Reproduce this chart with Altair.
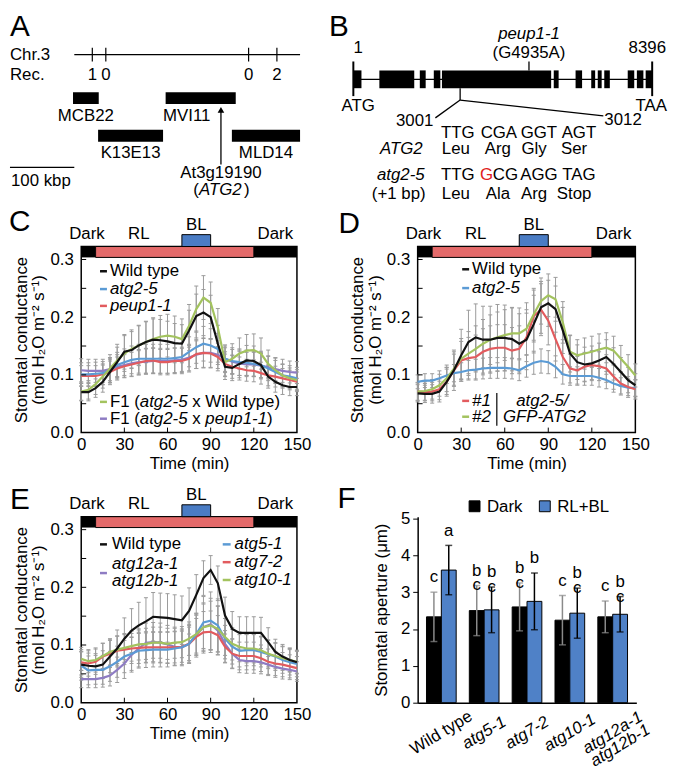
import altair as alt
import pandas as pd

FONT = "Liberation Sans"
FS = 17
GRAY = "#9b9b9b"
BLACK = "#111111"
BLUE = "#5b9bd5"
RED = "#e25b5e"
GREEN = "#a3c35e"
PURPLE = "#8e7cc3"
LIGHT_RED = "#e46a6a"
LIGHT_BLUE = "#4a7cc4"
BAR_BLUE = "#4f81c7"

# ---------------- data ----------------
TIME = list(range(0, 151, 5))
LIGHT_NAMES = ["Dark", "RL", "Dark"]
LIGHT_START = [0, 10, 120]
LIGHT_END = [10, 120, 150]
BL_START, BL_END = 70, 90
LIGHT_LABELS = ["Dark", "RL", "BL", "Dark"]
LIGHT_LABEL_T = [4, 40, 80, 135]

# Panel A (kbp)
A_CHR = [100, 451]
A_REC_KBP = [128, 149, 371, 415]
A_REC = ["1", "0", "0", "2"]
A_BAC = ["MCB22", "K13E13", "MVI11", "MLD14"]
A_BAC_START = [98, 137, 242, 345]
A_BAC_END = [138, 238, 351, 451]
A_BAC_ROW = [1, 2, 1, 2]
A_GENE_KBP = 328
A_SCALE_KBP = [0, 100]

# Panel B (bp)
B_LEN = 8396
B_EXON_START = [1, 732, 1868, 2261, 2490, 5631, 6244, 6684, 6867, 7050, 7709, 7966, 8213]
B_EXON_END = [229, 1712, 2033, 2445, 5558, 5768, 6427, 6794, 6977, 7206, 7892, 8149, 8396]
B_PEUP = 4935
B_SITE = [3001, 3012]
B_WT_CODON = ["TTG", "CGA", "GGT", "AGT"]
B_WT_AA = ["Leu", "Arg", "Gly", "Ser"]
B_MUT_CODON = ["TTG", "GCG", "AGG", "TAG"]
B_MUT_AA = ["Leu", "Ala", "Arg", "Stop"]

# Panel C
C_WT = [0.070,0.070,0.077,0.088,0.105,0.122,0.140,0.143,0.151,0.157,0.161,0.160,0.158,0.155,0.154,0.177,0.202,0.208,0.200,0.154,0.114,0.112,0.119,0.125,0.124,0.117,0.097,0.088,0.082,0.079,0.079]
C_ATG25 = [0.101,0.101,0.102,0.103,0.108,0.117,0.122,0.126,0.128,0.128,0.128,0.128,0.128,0.129,0.131,0.140,0.148,0.154,0.151,0.145,0.128,0.124,0.122,0.121,0.119,0.117,0.111,0.105,0.099,0.097,0.094]
C_PEUP = [0.098,0.098,0.098,0.101,0.105,0.111,0.115,0.118,0.121,0.124,0.125,0.122,0.122,0.124,0.124,0.128,0.136,0.138,0.137,0.131,0.119,0.114,0.111,0.108,0.107,0.103,0.099,0.097,0.094,0.091,0.088]
C_F1WT = [0.071,0.074,0.084,0.097,0.111,0.125,0.137,0.145,0.151,0.157,0.162,0.166,0.168,0.166,0.162,0.185,0.214,0.234,0.225,0.182,0.122,0.128,0.137,0.142,0.143,0.137,0.119,0.108,0.099,0.094,0.091]
C_F1PEUP = [0.108,0.107,0.107,0.107,0.110,0.114,0.117,0.120,0.122,0.123,0.124,0.124,0.124,0.125,0.126,0.130,0.135,0.138,0.138,0.135,0.128,0.123,0.120,0.118,0.118,0.116,0.113,0.110,0.107,0.105,0.104]
C_WT_SD = [0.015,0.015,0.016,0.018,0.022,0.026,0.030,0.032,0.034,0.035,0.036,0.036,0.035,0.034,0.033,0.035,0.038,0.040,0.038,0.032,0.022,0.022,0.024,0.026,0.026,0.024,0.020,0.018,0.016,0.015,0.015]
C_ATG25_SD = [0.020,0.020,0.020,0.020,0.021,0.022,0.023,0.024,0.025,0.025,0.025,0.025,0.025,0.025,0.025,0.026,0.028,0.030,0.029,0.027,0.024,0.023,0.023,0.022,0.022,0.022,0.021,0.020,0.020,0.019,0.019]
C_PEUP_SD = [0.018,0.018,0.018,0.018,0.019,0.020,0.020,0.021,0.021,0.022,0.022,0.022,0.022,0.022,0.022,0.023,0.025,0.026,0.025,0.024,0.021,0.020,0.020,0.019,0.019,0.019,0.018,0.018,0.017,0.017,0.017]
C_F1WT_SD = [0.015,0.016,0.018,0.020,0.024,0.028,0.031,0.033,0.035,0.036,0.037,0.037,0.037,0.036,0.035,0.037,0.040,0.038,0.036,0.033,0.025,0.026,0.027,0.028,0.028,0.027,0.024,0.021,0.019,0.018,0.018]
C_F1PEUP_SD = [0.020,0.020,0.020,0.020,0.020,0.021,0.021,0.022,0.022,0.022,0.022,0.022,0.022,0.022,0.022,0.023,0.024,0.025,0.025,0.024,0.022,0.021,0.021,0.021,0.021,0.021,0.020,0.020,0.020,0.019,0.019]

# Panel D
D_WT = [0.068,0.067,0.067,0.071,0.088,0.108,0.134,0.157,0.165,0.161,0.161,0.164,0.164,0.162,0.154,0.161,0.188,0.217,0.224,0.214,0.177,0.137,0.122,0.118,0.120,0.125,0.131,0.119,0.105,0.091,0.082]
D_ATG25 = [0.088,0.090,0.090,0.094,0.099,0.103,0.105,0.108,0.109,0.111,0.112,0.112,0.112,0.111,0.108,0.115,0.121,0.124,0.122,0.114,0.101,0.098,0.098,0.098,0.098,0.095,0.091,0.085,0.081,0.078,0.077]
D_N1 = [0.071,0.070,0.071,0.075,0.088,0.108,0.125,0.129,0.131,0.140,0.145,0.147,0.147,0.142,0.145,0.165,0.202,0.213,0.194,0.162,0.131,0.111,0.108,0.114,0.117,0.115,0.111,0.097,0.085,0.079,0.075]
D_N2 = [0.071,0.072,0.075,0.082,0.094,0.111,0.128,0.137,0.145,0.154,0.161,0.165,0.169,0.172,0.172,0.180,0.205,0.228,0.238,0.231,0.191,0.140,0.134,0.137,0.140,0.144,0.147,0.142,0.128,0.114,0.099]
D_WT_SD = [0.015,0.015,0.016,0.018,0.025,0.035,0.045,0.055,0.058,0.058,0.058,0.058,0.057,0.055,0.052,0.052,0.050,0.045,0.040,0.040,0.040,0.032,0.030,0.030,0.030,0.030,0.030,0.028,0.025,0.022,0.020]
D_ATG25_SD = [0.012,0.012,0.012,0.013,0.014,0.015,0.016,0.017,0.018,0.018,0.018,0.018,0.018,0.018,0.018,0.019,0.020,0.021,0.020,0.019,0.017,0.016,0.016,0.016,0.016,0.016,0.015,0.015,0.014,0.014,0.014]
D_N1_SD = [0.015,0.015,0.016,0.018,0.022,0.028,0.033,0.036,0.038,0.040,0.040,0.040,0.040,0.040,0.040,0.042,0.045,0.045,0.042,0.038,0.030,0.025,0.024,0.025,0.025,0.025,0.024,0.022,0.020,0.018,0.017]
D_N2_SD = [0.016,0.016,0.017,0.019,0.023,0.029,0.035,0.038,0.040,0.042,0.043,0.044,0.044,0.044,0.044,0.045,0.045,0.040,0.037,0.038,0.036,0.028,0.027,0.027,0.027,0.027,0.026,0.025,0.023,0.021,0.020]

# Panel E
E_WT = [0.066,0.064,0.063,0.066,0.080,0.094,0.111,0.125,0.134,0.141,0.149,0.148,0.147,0.145,0.143,0.159,0.187,0.216,0.230,0.207,0.151,0.128,0.121,0.121,0.121,0.121,0.105,0.088,0.080,0.074,0.070]
E_ATG5 = [0.064,0.056,0.057,0.057,0.063,0.071,0.080,0.085,0.090,0.091,0.092,0.092,0.092,0.094,0.096,0.102,0.119,0.139,0.142,0.134,0.111,0.097,0.090,0.091,0.091,0.088,0.084,0.080,0.074,0.070,0.067]
E_ATG7 = [0.070,0.068,0.071,0.080,0.085,0.090,0.092,0.094,0.095,0.096,0.096,0.096,0.096,0.096,0.097,0.102,0.114,0.122,0.123,0.117,0.097,0.085,0.081,0.081,0.081,0.077,0.071,0.068,0.066,0.063,0.060]
E_ATG10 = [0.076,0.072,0.074,0.081,0.088,0.092,0.095,0.098,0.101,0.102,0.104,0.104,0.102,0.104,0.105,0.111,0.119,0.131,0.134,0.128,0.114,0.102,0.097,0.094,0.094,0.091,0.085,0.081,0.077,0.074,0.071]
E_ATG12 = [0.041,0.041,0.041,0.043,0.047,0.057,0.068,0.083,0.094,0.104,0.105,0.104,0.101,0.097,0.096,0.102,0.117,0.131,0.136,0.125,0.102,0.085,0.074,0.072,0.072,0.070,0.066,0.062,0.059,0.057,0.054]
E_WT_SD = [0.022,0.022,0.022,0.024,0.028,0.032,0.036,0.038,0.040,0.041,0.042,0.042,0.042,0.042,0.042,0.040,0.035,0.030,0.025,0.030,0.032,0.030,0.028,0.028,0.028,0.027,0.025,0.022,0.021,0.020,0.020]
E_ATG5_SD = [0.025,0.025,0.025,0.025,0.026,0.027,0.028,0.029,0.030,0.030,0.030,0.030,0.030,0.030,0.030,0.032,0.036,0.045,0.050,0.046,0.035,0.030,0.028,0.027,0.027,0.026,0.025,0.024,0.023,0.022,0.022]
E_ATG7_SD = [0.022,0.022,0.022,0.023,0.024,0.025,0.026,0.026,0.027,0.027,0.027,0.027,0.027,0.027,0.027,0.029,0.032,0.036,0.036,0.034,0.028,0.025,0.024,0.024,0.024,0.023,0.022,0.021,0.021,0.020,0.020]
E_ATG10_SD = [0.020,0.020,0.021,0.022,0.023,0.024,0.025,0.026,0.027,0.027,0.027,0.027,0.027,0.027,0.027,0.029,0.033,0.040,0.042,0.040,0.032,0.028,0.026,0.025,0.025,0.024,0.023,0.022,0.021,0.021,0.020]
E_ATG12_SD = [0.015,0.015,0.015,0.016,0.018,0.022,0.026,0.030,0.032,0.034,0.034,0.034,0.033,0.032,0.032,0.034,0.038,0.042,0.045,0.042,0.032,0.026,0.022,0.021,0.021,0.020,0.019,0.018,0.018,0.017,0.017]

# Panel F
F_GROUPS = ["Wild type", "atg5-1", "atg7-2", "atg10-1", "atg12a-1 atg12b-1"]
F_CONDS = ["Dark", "RL+BL"]
F_DARK = [2.33, 2.50, 2.60, 2.24, 2.33]
F_DARK_SD = [0.67, 0.68, 0.65, 0.67, 0.43]
F_LIGHT = [3.60, 2.52, 2.75, 2.43, 2.40]
F_LIGHT_SD = [0.67, 0.62, 0.77, 0.68, 0.48]
F_DARK_LET = ["c", "b\nc", "b\nc", "c", "c"]
F_LIGHT_LET = ["a", "b\nc", "b", "b\nc", "b\nc"]

# ---------------- helpers ----------------
CW = {" ": 278, "(": 333, ")": 333, "-": 333, ".": 278, "/": 278, "#": 556, "+": 584,
      "A": 667, "B": 667, "C": 722, "D": 722, "E": 667, "F": 611, "G": 778, "H": 722, "I": 278,
      "K": 667, "L": 556, "M": 833, "O": 778, "P": 667, "R": 722, "S": 667, "T": 611, "V": 667,
      "W": 944, "a": 556, "b": 556, "c": 500, "d": 556, "e": 556, "g": 556, "h": 556, "i": 222,
      "k": 500, "l": 222, "m": 833, "n": 556, "o": 556, "p": 556, "r": 333, "s": 500, "t": 278,
      "u": 556, "w": 722, "x": 500, "y": 500}
for _d in "0123456789":
    CW[_d] = 556


def tw(s, size=FS):
    return sum(CW.get(ch, 556) for ch in s) * size / 1000.0


def text_layer(rows, X, Y, align="left", italic=False, size=FS, color="black", baseline="middle"):
    df = pd.DataFrame(rows, columns=["t", "v", "label"])
    return alt.Chart(df).mark_text(
        align=align, baseline=baseline, font=FONT, fontSize=size,
        fontStyle="italic" if italic else "normal", color=color
    ).encode(x=X, y=Y, text="label:N")


def rule_layer(rows, X, Y, width=1.0, color="black"):
    df = pd.DataFrame(rows, columns=["t", "t2", "v", "v2"])
    return alt.Chart(df).mark_rule(color=color, strokeWidth=width).encode(
        x=X, x2="t2:Q", y=Y, y2="v2:Q")


def rect_layer(rows, X, Y, stroke=None, sw=1.0):
    df = pd.DataFrame(rows, columns=["t", "t2", "v", "v2", "c"])
    mk = alt.Chart(df).mark_rect(stroke=stroke, strokeWidth=sw) if stroke else alt.Chart(df).mark_rect()
    return mk.encode(x=X, x2="t2:Q", y=Y, y2="v2:Q", color=alt.Color("c:N", scale=None))


def mixed_text(parts, x0_px, y_px, tx, vy, X, Y, color="black"):
    """Place text runs side by side; leading/trailing spaces are turned into offsets
    (SVG would collapse them)."""
    layers = []
    x = x0_px
    for text, italic in parts:
        lead = len(text) - len(text.lstrip(" "))
        x += tw(" " * lead)
        core = text.strip(" ")
        layers.append(text_layer([(tx(x), vy(y_px), core)], X, Y, align="left", italic=italic, color=color))
        x += tw(core) + tw(" " * (len(text) - lead - len(core)))
    return layers


# grid geometry (plot areas)
COL1_W = 221
COL_GAP = 119
ROW1_H = 152
ROW_GAP = 85

# ---------------- Panel A ----------------
A_W, A_H = COL1_W, ROW1_H
ax = lambda rx: (rx - 3) / 0.65     # reference px -> kbp
ay = lambda ry: ry - 3
XA = alt.X("t:Q", scale=alt.Scale(domain=[ax(75), ax(75 + A_W)], nice=False, zero=False), axis=None)
YA = alt.Y("v:Q", scale=alt.Scale(domain=[0, A_H], reverse=True, nice=False, zero=False), axis=None)
a_layers = []
a_layers.append(rule_layer([(A_CHR[0], A_CHR[1], ay(46), ay(46))], XA, YA, width=1.2))
a_layers.append(rule_layer([(k, k, ay(39), ay(53)) for k in A_REC_KBP], XA, YA, width=1.2))
a_layers.append(text_layer([(k, ay(67), r) for k, r in zip(A_REC_KBP, A_REC)], XA, YA, align="center"))
a_layers.append(rect_layer([(s, e, ay(84) if r == 1 else ay(122), ay(96) if r == 1 else ay(134), "black")
                            for s, e, r in zip(A_BAC_START, A_BAC_END, A_BAC_ROW)], XA, YA))
for name, s, e, r in zip(A_BAC, A_BAC_START, A_BAC_END, A_BAC_ROW):
    yy = ay(108) if r == 1 else ay(146)
    if name == "MVI11":
        a_layers.append(text_layer([(s - 4, yy, name)], XA, YA, align="left"))
    else:
        a_layers.append(text_layer([((s + e) / 2, yy, name)], XA, YA, align="center"))
a_layers.append(rule_layer([(A_GENE_KBP, A_GENE_KBP, ay(157), ay(104))], XA, YA, width=1.3))
a_layers.append(alt.Chart(pd.DataFrame({"t": [A_GENE_KBP], "v": [ay(102)]})).mark_point(
    shape="triangle-up", filled=True, size=45, color="black", opacity=1).encode(x=XA, y=YA))
a_layers.append(text_layer([(A_GENE_KBP, ay(166), "At3g19190")], XA, YA, align="center"))
_w = tw("(") + tw("ATG2") + tw(")")
_x = (A_GENE_KBP * 0.65) - _w / 2
for txt, it in [("(", False), ("ATG2", True), (")", False)]:
    a_layers.append(text_layer([(_x / 0.65, ay(183), txt)], XA, YA, align="left", italic=it))
    _x += tw(txt) + (1 if it else 0)
a_layers.append(rule_layer([(A_SCALE_KBP[0], A_SCALE_KBP[1], ay(160), ay(160))], XA, YA, width=1.3))
a_layers.append(text_layer([(ax(4), ay(174), "100 kbp")], XA, YA, align="left"))
a_layers.append(text_layer([(ax(3), ay(46), "Chr.3")], XA, YA, align="left"))
a_layers.append(text_layer([(ax(3), ay(67), "Rec.")], XA, YA, align="left"))
a_layers.append(text_layer([(ax(3), ay(18), "A")], XA, YA, align="left", size=30))
panelA = alt.layer(*a_layers).properties(width=A_W, height=A_H)

# ---------------- Panel B ----------------
B_LEFT = 75 + COL1_W + COL_GAP      # reference x of B plot area
B_W, B_H = 669 - B_LEFT, ROW1_H
bo = lambda rx: 1 + (rx - 356) * 8395 / 306      # reference px -> bp
by = lambda ry: ry - 3
_bpp = 8395 / 302
_bp_at = lambda r: 1 + (r + B_LEFT - 350) * _bpp
XB = alt.X("t:Q", scale=alt.Scale(domain=[_bp_at(0), _bp_at(B_W)], nice=False, zero=False), axis=None)
YB = alt.Y("v:Q", scale=alt.Scale(domain=[0, B_H], reverse=True, nice=False, zero=False), axis=None)
b_layers = []
b_layers.append(rule_layer([(1, B_LEN, by(71), by(71))], XB, YB, width=1.3))
b_layers.append(rect_layer([(s, e, by(62), by(80), "black") for s, e in zip(B_EXON_START, B_EXON_END)], XB, YB))
b_layers.append(rule_layer([(1, 1, by(53), by(88)), (B_LEN, B_LEN, by(53), by(88))], XB, YB, width=2))
b_layers.append(rule_layer([(B_PEUP, B_PEUP, by(53), by(62))], XB, YB, width=1.3))
b_layers.append(rule_layer([(B_SITE[0], B_SITE[0], by(80), by(92)),
                            (B_SITE[0], bo(440), by(92), by(110)),
                            (B_SITE[0], bo(612), by(92), by(108))], XB, YB, width=1.3))
b_layers.append(text_layer([(B_PEUP, by(25), "peup1-1")], XB, YB, align="center", italic=True))
b_layers.append(text_layer([(B_PEUP, by(44), "(G4935A)")], XB, YB, align="center"))
b_layers.append(text_layer([(bo(361), by(39), "1"), (bo(657), by(39), str(B_LEN)),
                            (bo(361), by(98), "ATG"), (bo(661), by(98), "TAA")], XB, YB, align="center"))
b_layers.append(text_layer([(bo(438), by(113), str(B_SITE[0])), (bo(430), by(187), "(+1 bp)")], XB, YB, align="right"))
b_layers.append(text_layer([(bo(613), by(112), str(B_SITE[1]))], XB, YB, align="left"))
b_layers.append(text_layer([(bo(427), by(141), "ATG2"), (bo(429), by(168), "atg2-5")], XB, YB, align="right", italic=True))
COLS_CODON = [463, 505, 546, 587]
COLS_AA = [461, 504, 541, 582]
rows = []
for cx, ca, c1, a1, c2, a2 in zip(COLS_CODON, COLS_AA, B_WT_CODON, B_WT_AA, B_MUT_CODON, B_MUT_AA):
    rows += [(bo(cx), by(125), c1), (bo(ca), by(142), a1), (bo(ca), by(187), a2)]
    if c2 != "GCG":
        rows.append((bo(cx), by(168), c2))
b_layers.append(text_layer(rows, XB, YB, align="center"))
_gx = COLS_CODON[1] - tw("GCG") / 2
b_layers.append(text_layer([(bo(_gx), by(168), "G")], XB, YB, align="left", color="#e02020"))
b_layers.append(text_layer([(bo(_gx + tw("G")), by(168), "CG")], XB, YB, align="left"))
b_layers.append(text_layer([(bo(331), by(18), "B")], XB, YB, align="left", size=30))
panelB = alt.layer(*b_layers).properties(width=B_W, height=B_H)

# ---------------- line panels ----------------
YMAX = 0.3225
YTITLE = ["Stomatal conductance", "(mol H\u2082O m\u207b\u00b2 s\u207b\u00b9)"]


def line_panel(letter, letter_pos, series, legend_fn, W, H=188):
    X = alt.X("t:Q", scale=alt.Scale(domain=[0, 150], nice=False, zero=False),
              axis=alt.Axis(values=[0, 30, 60, 90, 120, 150], title="Time (min)", ticks=False, domain=False,
                            grid=False, labelFlush=False, labelPadding=4, titlePadding=3, labelOverlap=False))
    Y = alt.Y("v:Q", scale=alt.Scale(domain=[0, YMAX], nice=False, zero=False),
              axis=alt.Axis(values=[0, 0.1, 0.2, 0.3], format=".1f", title=YTITLE, ticks=False, domain=False,
                            grid=False, labelPadding=8, titlePadding=2, titleLineHeight=18, labelOverlap=False))
    tx = lambda px: px / W * 150
    vy = lambda py: (H - py) / H * YMAX
    layers = []
    err, caps = [], []
    for name, col, mean, sd in series:
        for t, m, s in zip(TIME, mean, sd):
            err.append((t, t, m - s, m + s))
            caps.append((t - 1.4, t + 1.4, m - s, m - s))
            caps.append((t - 1.4, t + 1.4, m + s, m + s))
    layers.append(rule_layer(err, X, Y, width=1, color=GRAY))
    layers.append(rule_layer(caps, X, Y, width=1, color=GRAY))
    for name, col, mean, sd in series:
        df = pd.DataFrame({"t": TIME, "v": mean})
        layers.append(alt.Chart(df).mark_line(color=col, strokeWidth=2.2).encode(x=X, y=Y))
    band = []
    for nm, s, e in zip(LIGHT_NAMES, LIGHT_START, LIGHT_END):
        band.append((s, e, vy(11), vy(0), "black" if nm == "Dark" else LIGHT_RED))
    layers.append(rect_layer([band[0], band[2]], X, Y))
    layers.append(rect_layer([band[1]], X, Y, stroke="black", sw=1))
    layers.append(rect_layer([(BL_START, BL_END, vy(0), vy(-12), LIGHT_BLUE)], X, Y, stroke="black", sw=1))
    lab = []
    for nm, t in zip(LIGHT_LABELS, LIGHT_LABEL_T):
        lab.append((t, vy(-22) if nm == "BL" else vy(-12.5), nm))
    layers.append(text_layer(lab, X, Y, align="center"))
    layers += legend_fn(X, Y, tx, vy)
    layers.append(alt.Chart(pd.DataFrame({"t": [30, 60, 90, 120]})).mark_rule(color="black", strokeWidth=1)
                  .encode(x=X, y=alt.value(H), y2=alt.value(H - 5)))
    layers.append(alt.Chart(pd.DataFrame({"v": [0.05, 0.1, 0.15, 0.2, 0.25, 0.3]})).mark_rule(color="black", strokeWidth=1)
                  .encode(y=Y, x=alt.value(0), x2=alt.value(5)))
    layers.append(text_layer([(tx(letter_pos[0]), vy(letter_pos[1]), letter)], X, Y, align="left", size=30))
    return alt.layer(*layers).properties(width=W, height=H,
                                          view=alt.ViewBackground(stroke="black", strokeWidth=1.5))


def sample(X, Y, tx, vy, x0, x1, y, col):
    return rule_layer([(tx(x0), tx(x1), vy(y), vy(y))], X, Y, width=2.5, color=col)


def legend_c(X, Y, tx, vy):
    L = []
    for y, col, txt, it in [(25, BLACK, "Wild type", False), (43, BLUE, "atg2-5", True), (60, RED, "peup1-1", True)]:
        L.append(sample(X, Y, tx, vy, 19, 26, y, col))
        L.append(text_layer([(tx(29), vy(y), txt)], X, Y, italic=it))
    L.append(sample(X, Y, tx, vy, 19, 26, 157, GREEN))
    L += mixed_text([("F1 (", False), ("atg2-5", True), (" x Wild type)", False)], 29, 157, tx, vy, X, Y)
    L.append(sample(X, Y, tx, vy, 19, 26, 174, PURPLE))
    L += mixed_text([("F1 (", False), ("atg2-5", True), (" x ", False), ("peup1-1", True), (")", False)],
                    29, 174, tx, vy, X, Y)
    return L


def legend_d(X, Y, tx, vy):
    L = []
    for y, col, txt, it in [(23, BLACK, "Wild type", False), (42, BLUE, "atg2-5", True),
                            (156, RED, "#1", True), (172, GREEN, "#2", True)]:
        L.append(sample(X, Y, tx, vy, 45, 52, y, col))
        L.append(text_layer([(tx(55), vy(y), txt)], X, Y, italic=it))
    L.append(rule_layer([(tx(80), tx(80), vy(148), vy(181))], X, Y, width=1.2))
    L.append(text_layer([(tx(126), vy(156), "atg2-5/"), (tx(128), vy(172), "GFP-ATG2")], X, Y,
                        align="center", italic=True))
    return L


def legend_e(X, Y, tx, vy):
    L = []
    L.append(sample(X, Y, tx, vy, 19, 26, 28, BLACK))
    L.append(text_layer([(tx(31), vy(28), "Wild type")], X, Y))
    L.append(sample(X, Y, tx, vy, 19, 26, 57, PURPLE))
    L.append(text_layer([(tx(31), vy(48), "atg12a-1"), (tx(31), vy(65), "atg12b-1")], X, Y, italic=True))
    for y, col, txt in [(28, BLUE, "atg5-1"), (46, RED, "atg7-2"), (64, GREEN, "atg10-1")]:
        L.append(sample(X, Y, tx, vy, 143, 151, y, col))
        L.append(text_layer([(tx(155), vy(y), txt)], X, Y, italic=True))
    return L


panelC = line_panel("C", (-73, -25), [
    ("F1 (atg2-5 x peup1-1)", PURPLE, C_F1PEUP, C_F1PEUP_SD),
    ("peup1-1", RED, C_PEUP, C_PEUP_SD),
    ("atg2-5", BLUE, C_ATG25, C_ATG25_SD),
    ("F1 (atg2-5 x Wild type)", GREEN, C_F1WT, C_F1WT_SD),
    ("Wild type", BLACK, C_WT, C_WT_SD)], legend_c, W=218)

panelD = line_panel("D", (-80, -23), [
    ("atg2-5", BLUE, D_ATG25, D_ATG25_SD),
    ("#1", RED, D_N1, D_N1_SD),
    ("#2", GREEN, D_N2, D_N2_SD),
    ("Wild type", BLACK, D_WT, D_WT_SD)], legend_d, W=220)

panelE = line_panel("E", (-72, -17), [
    ("atg12a-1 atg12b-1", PURPLE, E_ATG12, E_ATG12_SD),
    ("atg7-2", RED, E_ATG7, E_ATG7_SD),
    ("atg5-1", BLUE, E_ATG5, E_ATG5_SD),
    ("atg10-1", GREEN, E_ATG10, E_ATG10_SD),
    ("Wild type", BLACK, E_WT, E_WT_SD)], legend_e, W=218)

# ---------------- Panel F ----------------
F_W, F_H = 221, 188
F_YMAX = 5.05
rows = []
for g, md, sdd, ml, sdl, ld, ll in zip(F_GROUPS, F_DARK, F_DARK_SD, F_LIGHT, F_LIGHT_SD, F_DARK_LET, F_LIGHT_LET):
    rows.append(dict(g=g, cond="Dark", m=md, lo=md - sdd, hi=md + sdd, letter=ld, ec="#8a8a8a"))
    rows.append(dict(g=g, cond="RL+BL", m=ml, lo=ml - sdl, hi=ml + sdl, letter=ll, ec="black"))
fdf = pd.DataFrame(rows)
yscale = alt.Scale(domain=[0, F_YMAX], nice=False, zero=True)
yaxis = alt.Axis(values=[0, 1, 2, 3, 4, 5], title="Stomatal aperture (\u03bcm)", grid=False, tickSize=5,
                 labelPadding=3, titlePadding=10, domainColor="black", tickColor="black", domainWidth=1.5)
XF = alt.X("g:N", sort=F_GROUPS, scale=alt.Scale(paddingInner=0.307, paddingOuter=0.206),
           axis=alt.Axis(title=None, ticks=False, tickSize=0, domainColor="black", domainWidth=1.5,
                         labelAngle=-31, labelAlign="center", labelBaseline="middle", labelPadding=30,
                         labelLineHeight=15,
                         labelExpr="datum.value == 'atg12a-1 atg12b-1' ? ['atg12a-1', 'atg12b-1'] : datum.label",
                         labelFontStyle=alt.condition("datum.value == 'Wild type'", alt.value("normal"), alt.value("italic"))))
XO = alt.XOffset("cond:N", sort=F_CONDS, scale=alt.Scale(paddingInner=0, paddingOuter=0))
bars = alt.Chart(fdf).mark_bar(stroke="black", strokeWidth=1).encode(
    x=XF, xOffset=XO, y=alt.Y("m:Q", scale=yscale, axis=yaxis),
    color=alt.Color("cond:N", sort=F_CONDS,
                    scale=alt.Scale(domain=F_CONDS, range=["#000000", BAR_BLUE]), legend=None))
ebars = alt.Chart(fdf).mark_rule(strokeWidth=1.5).encode(
    x=XF, xOffset=XO, y=alt.Y("lo:Q", scale=yscale, axis=yaxis), y2="hi:Q", color=alt.Color("ec:N", scale=None))
cap_lo = alt.Chart(fdf).mark_tick(thickness=1.5, size=7).encode(
    x=XF, xOffset=XO, y=alt.Y("lo:Q", scale=yscale, axis=yaxis), color=alt.Color("ec:N", scale=None))
cap_hi = alt.Chart(fdf).mark_tick(thickness=1.5, size=7).encode(
    x=XF, xOffset=XO, y=alt.Y("hi:Q", scale=yscale, axis=yaxis), color=alt.Color("ec:N", scale=None))
letters = alt.Chart(fdf).mark_text(baseline="bottom", dy=-6, fontSize=FS, font=FONT, lineBreak="\n",
                                   lineHeight=15, color="black").encode(
    x=XF, xOffset=XO, y=alt.Y("hi:Q", scale=yscale, axis=yaxis), text="letter:N")
one = pd.DataFrame({"a": [0]})
f_extra = []
for lx, col, lab in [(52, "#000000", F_CONDS[0]), (123, BAR_BLUE, F_CONDS[1])]:
    f_extra.append(alt.Chart(one).mark_rect(fill=col, stroke="black", strokeWidth=1).encode(
        x=alt.value(lx), x2=alt.value(lx + 11), y=alt.value(-16), y2=alt.value(-5)))
    f_extra.append(alt.Chart(one).mark_text(align="left", baseline="middle", fontSize=FS, font=FONT,
                                            color="black").encode(
        x=alt.value(lx + 18), y=alt.value(-10), text=alt.value(lab)))
f_extra.append(alt.Chart(one).mark_text(align="left", baseline="middle", fontSize=30, font=FONT,
                                        color="black").encode(
    x=alt.value(-81), y=alt.value(-18), text=alt.value("F")))
panelF = alt.layer(bars, ebars, cap_lo, cap_hi, letters, *f_extra).properties(width=F_W, height=F_H)

# ---------------- layout ----------------
chart = alt.concat(panelA, panelB, panelC, panelD, panelE, panelF, columns=2,
                   spacing=alt.RowColnumber(row=ROW_GAP, column=COL_GAP), bounds="flush"
                   ).properties(padding=0).configure(font=FONT).configure_view(stroke=None).configure_axis(
    labelFont=FONT, titleFont=FONT, labelFontSize=FS, titleFontSize=FS, titleFontWeight="normal",
    labelColor="black", titleColor="black")

chart.save("out.html", embed_options={"renderer": "svg", "actions": False})
